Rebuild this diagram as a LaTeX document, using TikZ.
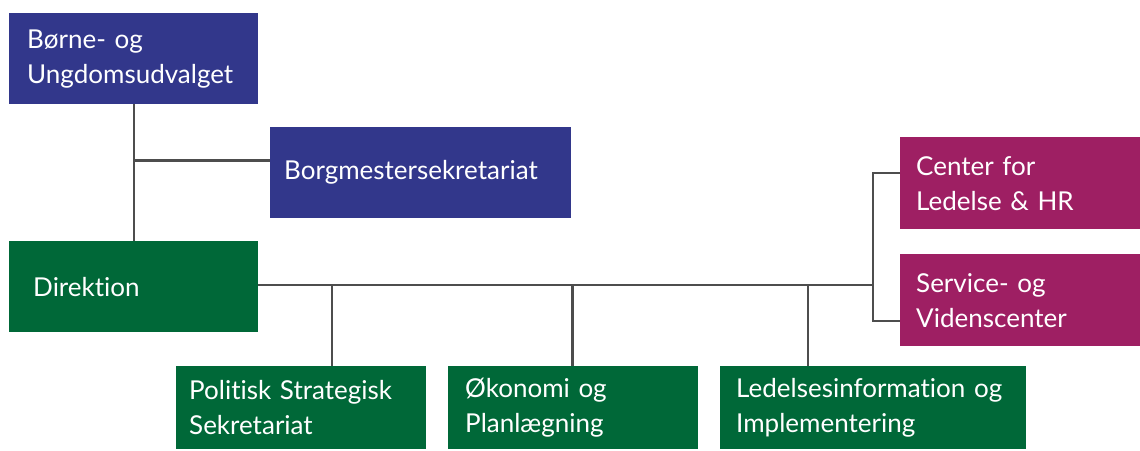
\documentclass[tikz,border=0pt]{standalone}
\usepackage{fontspec}
\setmainfont{Lato}[RawFeature={-liga;-dlig}]
\definecolor{cblue}{RGB}{50,55,139}
\definecolor{cgreen}{RGB}{0,104,56}
\definecolor{cpurple}{RGB}{158,31,99}
\definecolor{cline}{RGB}{77,77,77}
\begin{document}
\begin{tikzpicture}[x=1pt,y=1pt,
  box/.style={anchor=north west, text=white, align=left, inner ysep=0pt,
    font=\fontsize{26}{35}\selectfont},
  conn/.style={draw=cline, line width=2.2pt}]
\useasboundingbox (0,0) rectangle (1140,-450);
\node[box, fill=cblue, minimum width=249, minimum height=91, inner xsep=18, text width=213] (bu) at (9,-13) {Børne- og\\Ungdomsudvalget};
\node[box, fill=cblue, minimum width=301, minimum height=91, inner xsep=14, text width=273] (bs) at (270,-127) {Borgmestersekretariat};
\node[box, fill=cgreen, minimum width=249, minimum height=91, inner xsep=24, text width=201] (di) at (9,-241) {Direktion};
\node[box, fill=cgreen, minimum width=250, minimum height=83, inner xsep=13, text width=224] (ps) at (176,-366) {Politisk Strategisk\\Sekretariat};
\node[box, fill=cgreen, minimum width=250, minimum height=83, inner xsep=17, text width=216] (ok) at (448,-366) {Økonomi og\\Planlægning};
\node[box, fill=cgreen, minimum width=306, minimum height=83, inner xsep=16, text width=274] (li) at (720,-366) {Ledelsesinformation og\\Implementering};
\node[box, fill=cpurple, minimum width=240, minimum height=92, inner xsep=16, text width=208] (cl) at (900,-137) {Center for\\Ledelse \& HR};
\node[box, fill=cpurple, minimum width=240, minimum height=92, inner xsep=16, text width=208] (sv) at (900,-254) {Service- og\\Videnscenter};
\coordinate (jb) at (133.5,-160.5);
\coordinate (jr) at (873,-285);
\coordinate (jc) at (873,-173);
\coordinate (js) at (873,-321);
\coordinate (j1) at (332,-285);
\coordinate (j2) at (572.5,-285);
\coordinate (j3) at (808,-285);
\draw[conn] (bu.south) -- (di.north);
\draw[conn] (jb) -- (jb -| bs.west);
\draw[conn] (di.east |- jr) -- (jr);
\draw[conn] (j1) -- (j1 |- ps.north);
\draw[conn] (j2) -- (j2 |- ok.north);
\draw[conn] (j3) -- (j3 |- li.north);
\draw[conn] (jc -| cl.west) -- (jc) -- (js) -- (js -| sv.west);
\end{tikzpicture}
\end{document}
